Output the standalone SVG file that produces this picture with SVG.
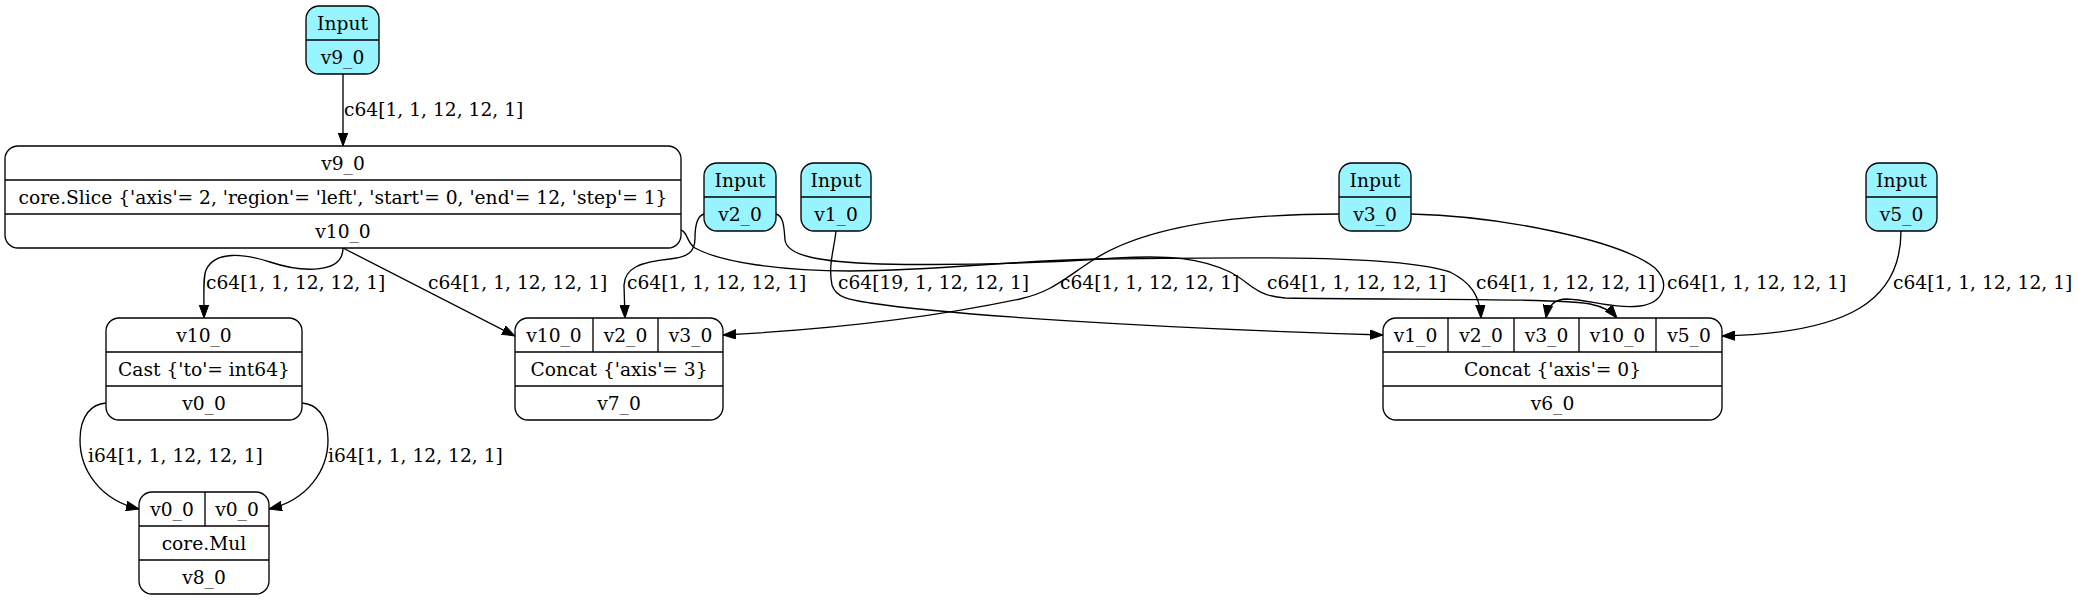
<svg xmlns="http://www.w3.org/2000/svg" width="2079" height="601" viewBox="0 0 2079 601">
<style>
.box{fill:#ffffff;stroke:#000;stroke-width:1.33}
.inp .box{fill:#98f5ff}
.dv{stroke:#000;stroke-width:1.33}
text{font-family:"DejaVu Serif",serif;font-size:18.67px;fill:#000}
.c{text-anchor:middle}
.e{fill:none;stroke:#000;stroke-width:1.33;marker-end:url(#arr)}
</style>
<defs>
<marker id="arr" viewBox="0 0 13 10" refX="13" refY="5" markerWidth="13" markerHeight="10" markerUnits="userSpaceOnUse" orient="auto">
<path d="M0,0.3 L13,5 L0,9.7 z" fill="#000" stroke="#000" stroke-width="1"/>
</marker>
</defs>
<rect width="2079" height="601" fill="#fff"/>

<g id="connectors">
<path class="e" d="M343,74 L343,146"/>
<text x="344" y="116">c64[1, 1, 12, 12, 1]</text>

<path class="e" d="M343,248 C343,275 300,272 270,262 C245,254 215,250 206,270 C203,278 204,290 204,318"/>
<text x="206" y="289">c64[1, 1, 12, 12, 1]</text>

<path class="e" d="M343,248 L515,336"/>
<text x="428" y="289">c64[1, 1, 12, 12, 1]</text>

<path class="e" d="M704,214 C697,216 695,225 695,238 C695,252 688,257 670,259 C640,262 625,268 624,285 L625,318"/>
<text x="627" y="289">c64[1, 1, 12, 12, 1]</text>

<path class="e" d="M836,231 C834,250 828,265 832,285 C836,298 850,300 870,303 C950,315 1150,328 1383,335"/>
<text x="838" y="289">c64[19, 1, 12, 12, 1]</text>

<path class="e" d="M1339,214 C1230,214 1140,228 1090,262 C1060,282 1050,292 1020,299 C920,320 820,330 723,335"/>
<text x="1060" y="289">c64[1, 1, 12, 12, 1]</text>

<path class="e" d="M681,230 C688,232 686,242 695,248 C720,262 780,271 850,271 C950,270 1000,261 1100,259 C1250,257 1400,255 1450,272 C1470,282 1480,295 1481,318"/>
<text x="1267" y="289">c64[1, 1, 12, 12, 1]</text>

<path class="e" d="M776,214 C784,216 784,228 785,240 C787,256 820,262 880,264 C980,266 1060,262 1117,258 C1170,255 1200,258 1230,272 C1250,282 1255,296 1285,298 C1400,300 1560,298 1590,304 C1605,307 1612,312 1617,318"/>
<text x="1476" y="289">c64[1, 1, 12, 12, 1]</text>

<path class="e" d="M1411,214 C1500,216 1620,240 1655,268 C1672,285 1662,303 1640,306 C1615,309 1590,300 1567,299 C1555,299 1548,305 1546,318"/>
<text x="1667" y="289">c64[1, 1, 12, 12, 1]</text>

<path class="e" d="M1901,231 C1901,300 1850,333 1722,336"/>
<text x="1893" y="289">c64[1, 1, 12, 12, 1]</text>

<path class="e" d="M106,403 C92,404 80,415 80,440 C80,470 100,500 139,509"/>
<text x="88" y="462">i64[1, 1, 12, 12, 1]</text>

<path class="e" d="M302,403 C316,404 328,415 328,440 C328,470 308,500 269,509"/>
<text x="328" y="462">i64[1, 1, 12, 12, 1]</text>
</g>

<g id="in_v9" class="inp">
<rect class="box" x="306" y="6" width="73" height="68" rx="13"/>
<line class="dv" x1="306" y1="40" x2="379" y2="40"/>
<text class="c" x="342.5" y="29.5">Input</text>
<text class="c" x="342.5" y="63.5">v9_0</text>
</g>

<g id="slice">
<rect class="box" x="5" y="146" width="676" height="102" rx="13"/>
<line class="dv" x1="5" y1="180" x2="681" y2="180"/>
<line class="dv" x1="5" y1="214" x2="681" y2="214"/>
<text class="c" x="343" y="169.5">v9_0</text>
<text class="c" x="343" y="203.5">core.Slice {'axis'= 2, 'region'= 'left', 'start'= 0, 'end'= 12, 'step'= 1}</text>
<text class="c" x="343" y="237.5">v10_0</text>
</g>

<g id="in_v2" class="inp">
<rect class="box" x="704" y="163" width="72" height="68" rx="13"/>
<line class="dv" x1="704" y1="197" x2="776" y2="197"/>
<text class="c" x="740" y="186.5">Input</text>
<text class="c" x="740" y="220.5">v2_0</text>
</g>

<g id="in_v1" class="inp">
<rect class="box" x="801" y="163" width="70" height="68" rx="13"/>
<line class="dv" x1="801" y1="197" x2="871" y2="197"/>
<text class="c" x="836" y="186.5">Input</text>
<text class="c" x="836" y="220.5">v1_0</text>
</g>

<g id="in_v3" class="inp">
<rect class="box" x="1339" y="163" width="72" height="68" rx="13"/>
<line class="dv" x1="1339" y1="197" x2="1411" y2="197"/>
<text class="c" x="1375" y="186.5">Input</text>
<text class="c" x="1375" y="220.5">v3_0</text>
</g>

<g id="in_v5" class="inp">
<rect class="box" x="1866" y="163" width="71" height="68" rx="13"/>
<line class="dv" x1="1866" y1="197" x2="1937" y2="197"/>
<text class="c" x="1901.5" y="186.5">Input</text>
<text class="c" x="1901.5" y="220.5">v5_0</text>
</g>

<g id="cast">
<rect class="box" x="106" y="318" width="196" height="102" rx="13"/>
<line class="dv" x1="106" y1="352" x2="302" y2="352"/>
<line class="dv" x1="106" y1="386" x2="302" y2="386"/>
<text class="c" x="204" y="341.5">v10_0</text>
<text class="c" x="204" y="375.5">Cast {'to'= int64}</text>
<text class="c" x="204" y="409.5">v0_0</text>
</g>

<g id="concat7">
<rect class="box" x="515" y="318" width="208" height="102" rx="13"/>
<line class="dv" x1="515" y1="352" x2="723" y2="352"/>
<line class="dv" x1="515" y1="386" x2="723" y2="386"/>
<line class="dv" x1="593" y1="318" x2="593" y2="352"/>
<line class="dv" x1="658" y1="318" x2="658" y2="352"/>
<text class="c" x="554" y="341.5">v10_0</text>
<text class="c" x="625.5" y="341.5">v2_0</text>
<text class="c" x="690.5" y="341.5">v3_0</text>
<text class="c" x="619" y="375.5">Concat {'axis'= 3}</text>
<text class="c" x="619" y="409.5">v7_0</text>
</g>

<g id="concat6">
<rect class="box" x="1383" y="318" width="339" height="102" rx="13"/>
<line class="dv" x1="1383" y1="352" x2="1722" y2="352"/>
<line class="dv" x1="1383" y1="386" x2="1722" y2="386"/>
<line class="dv" x1="1448" y1="318" x2="1448" y2="352"/>
<line class="dv" x1="1514" y1="318" x2="1514" y2="352"/>
<line class="dv" x1="1579" y1="318" x2="1579" y2="352"/>
<line class="dv" x1="1656" y1="318" x2="1656" y2="352"/>
<text class="c" x="1415.5" y="341.5">v1_0</text>
<text class="c" x="1481" y="341.5">v2_0</text>
<text class="c" x="1546.5" y="341.5">v3_0</text>
<text class="c" x="1617.5" y="341.5">v10_0</text>
<text class="c" x="1689" y="341.5">v5_0</text>
<text class="c" x="1552.5" y="375.5">Concat {'axis'= 0}</text>
<text class="c" x="1552.5" y="409.5">v6_0</text>
</g>

<g id="mul">
<rect class="box" x="139" y="492" width="130" height="102" rx="13"/>
<line class="dv" x1="139" y1="526" x2="269" y2="526"/>
<line class="dv" x1="139" y1="560" x2="269" y2="560"/>
<line class="dv" x1="205" y1="492" x2="205" y2="526"/>
<text class="c" x="172" y="515.5">v0_0</text>
<text class="c" x="237" y="515.5">v0_0</text>
<text class="c" x="204" y="549.5">core.Mul</text>
<text class="c" x="204" y="583.5">v8_0</text>
</g>
</svg>
